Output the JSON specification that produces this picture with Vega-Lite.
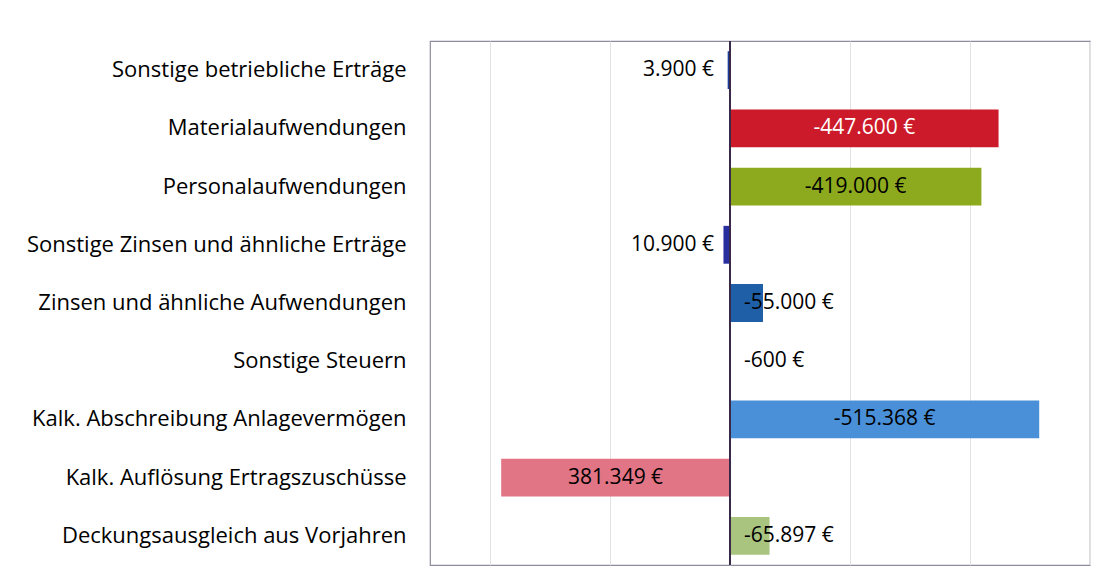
{
  "$schema": "https://vega.github.io/schema/vega-lite/v6.json",
  "autosize": {"type": "none"},
  "width": 660,
  "height": 524,
  "padding": {"left": 430, "top": 41, "right": 19, "bottom": 18},
  "background": "white",
  "config": {
    "locale": {"number": {"decimal": ",", "thousands": ".", "grouping": [3], "currency": ["", " €"], "minus": "-"}},
    "view": {"stroke": "#8c8c9c", "strokeWidth": 1.2},
    "font": "Open Sans"
  },
  "data": {
    "values": [
      {"category": "Sonstige betriebliche Erträge", "value": 3900},
      {"category": "Materialaufwendungen", "value": -447600},
      {"category": "Personalaufwendungen", "value": -419000},
      {"category": "Sonstige Zinsen und ähnliche Erträge", "value": 10900},
      {"category": "Zinsen und ähnliche Aufwendungen", "value": -55000},
      {"category": "Sonstige Steuern", "value": -600},
      {"category": "Kalk. Abschreibung Anlagevermögen", "value": -515368},
      {"category": "Kalk. Auflösung Ertragszuschüsse", "value": 381349},
      {"category": "Deckungsausgleich aus Vorjahren", "value": -65897}
    ]
  },
  "encoding": {
    "y": {
      "field": "category", "type": "nominal", "sort": null,
      "scale": {"paddingInner": 0.35, "paddingOuter": 0.175},
      "axis": {"title": null, "ticks": false, "domain": false, "labelPadding": 24, "labelFontSize": 22, "labelColor": "#000", "labelLimit": 0, "labelFont": "Open Sans"}
    }
  },
  "layer": [
    {
      "mark": {"type": "bar"},
      "encoding": {
        "x": {
          "field": "value", "type": "quantitative",
          "scale": {"domain": [-600000, 500000], "reverse": true, "nice": false, "zero": true},
          "axis": {"title": null, "labels": false, "ticks": false, "domain": false, "grid": true, "gridColor": "#e2e2e2", "values": [-600000, -400000, -200000, 0, 200000, 400000]}
        },
        "color": {
          "field": "category", "type": "nominal", "legend": null,
          "scale": {
            "domain": ["Sonstige betriebliche Erträge", "Materialaufwendungen", "Personalaufwendungen", "Sonstige Zinsen und ähnliche Erträge", "Zinsen und ähnliche Aufwendungen", "Sonstige Steuern", "Kalk. Abschreibung Anlagevermögen", "Kalk. Auflösung Ertragszuschüsse", "Deckungsausgleich aus Vorjahren"],
            "range": ["#1b3d9a", "#cc1a2a", "#8daa1e", "#2a2fa0", "#1e5fa8", "#7f7f7f", "#4a90d8", "#e27585", "#a9c47e"]
          }
        }
      }
    },
    {
      "mark": {"type": "rule", "color": "#3a2a4a", "strokeWidth": 1.2},
      "encoding": {"x": {"datum": 0, "type": "quantitative"}, "y": null}
    },
    {
      "transform": [
        {"filter": "abs(datum.value) >= 100000"},
        {"calculate": "datum.value / 2", "as": "mid"}
      ],
      "mark": {"type": "text", "fontSize": 21, "align": "center", "baseline": "middle"},
      "encoding": {
        "x": {"field": "mid", "type": "quantitative"},
        "text": {"field": "value", "type": "quantitative", "format": "$,.0f"},
        "color": {"condition": {"test": "datum.category === 'Materialaufwendungen'", "value": "white"}, "value": "#000"}
      }
    },
    {
      "transform": [{"filter": "datum.value > 0 && datum.value < 100000"}],
      "mark": {"type": "text", "fontSize": 21, "align": "right", "baseline": "middle", "dx": -16, "color": "#000"},
      "encoding": {
        "x": {"datum": 0, "type": "quantitative"},
        "text": {"field": "value", "type": "quantitative", "format": "$,.0f"}
      }
    },
    {
      "transform": [{"filter": "datum.value < 0 && datum.value > -100000"}],
      "mark": {"type": "text", "fontSize": 21, "align": "left", "baseline": "middle", "dx": 14, "color": "#000"},
      "encoding": {
        "x": {"datum": 0, "type": "quantitative"},
        "text": {"field": "value", "type": "quantitative", "format": "$,.0f"}
      }
    }
  ]
}
